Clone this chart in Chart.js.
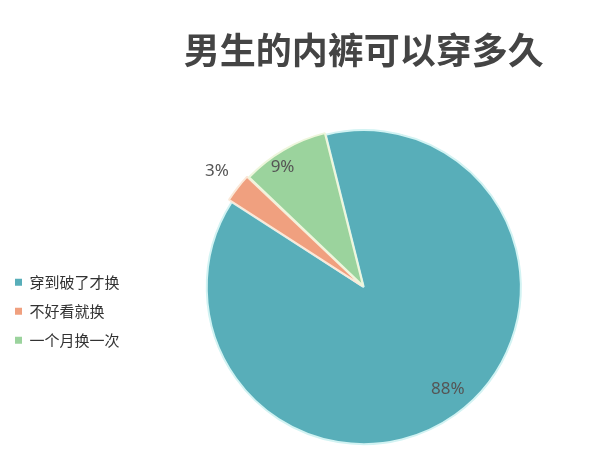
<!DOCTYPE html>
<html lang="zh">
<head>
    <meta charset="UTF-8">
    <title>男生的内裤可以穿多久</title>
    <script src="https://cdn.jsdelivr.net/npm/chart.js"></script>
    <style>
        body {
            margin: 0;
            background-color: #ffffff;
        }
        #wrap {
            width: 605px;
            height: 467px;
        }
    </style>
</head>
<body>
    <div id="wrap"><canvas id="myChart"></canvas></div>
    <script>
        const categories = ['穿到破了才换', '不好看就换', '一个月换一次'];
        const percentages = [88, 3, 9];
        const sliceColors = ['#58aeb9', '#f0a07f', '#9bd39d'];

        // where each % label sits: fraction of the radius, and a small angle nudge (deg)
        const labelRadius = [0.84, 1.19, 0.92];
        const labelNudge = [-4, 0, -4];

        const pctLabels = {
            id: 'pctLabels',
            afterDatasetsDraw(chart) {
                const c = chart.ctx;
                const meta = chart.getDatasetMeta(0);
                c.save();
                c.font = '17px "Noto Sans", "Noto Sans CJK SC", sans-serif';
                c.fillStyle = '#555555';
                c.textAlign = 'center';
                c.textBaseline = 'middle';
                meta.data.forEach((arc, i) => {
                    const p = arc.getProps(['x', 'y', 'startAngle', 'endAngle', 'outerRadius'], true);
                    const mid = (p.startAngle + p.endAngle) / 2 + labelNudge[i] * Math.PI / 180;
                    const r = p.outerRadius * labelRadius[i];
                    c.fillText(percentages[i] + '%', p.x + Math.cos(mid) * r, p.y + Math.sin(mid) * r);
                });
                c.restore();
            }
        };

        const ctx = document.getElementById('myChart').getContext('2d');
        const myChart = new Chart(ctx, {
            type: 'pie',
            data: {
                labels: categories,
                datasets: [{
                    data: percentages,
                    backgroundColor: sliceColors,
                    borderColor: ['#d2f3f3', '#fbe8d8', '#eef6dc'],
                    borderWidth: 2,
                    offset: [0, 8, 5]
                }]
            },
            plugins: [pctLabels],
            options: {
                responsive: true,
                maintainAspectRatio: false,
                animation: false,
                rotation: -14,
                radius: 157,
                layout: {
                    padding: { left: 1, right: 7, top: 0, bottom: 0 }
                },
                plugins: {
                    title: {
                        display: true,
                        fullSize: false,
                        text: '男生的内裤可以穿多久',
                        color: '#444444',
                        font: { family: '"Noto Sans CJK SC", sans-serif', size: 36, weight: 'bold' },
                        padding: { top: 29, bottom: 35 }
                    },
                    legend: {
                        position: 'left',
                        fullSize: false,
                        title: {
                            display: true,
                            text: ' ',
                            font: { size: 12 },
                            padding: 17
                        },
                        labels: {
                            boxWidth: 7,
                            boxHeight: 7,
                            padding: 14,
                            color: '#333333',
                            font: { family: '"Noto Sans CJK SC", sans-serif', size: 15 },
                            generateLabels(chart) {
                                const items = Chart.overrides.pie.plugins.legend.labels.generateLabels(chart);
                                items.forEach(it => { it.lineWidth = 0; });
                                return items;
                            }
                        }
                    },
                    tooltip: { enabled: false }
                }
            }
        });
    </script>
</body>
</html>
